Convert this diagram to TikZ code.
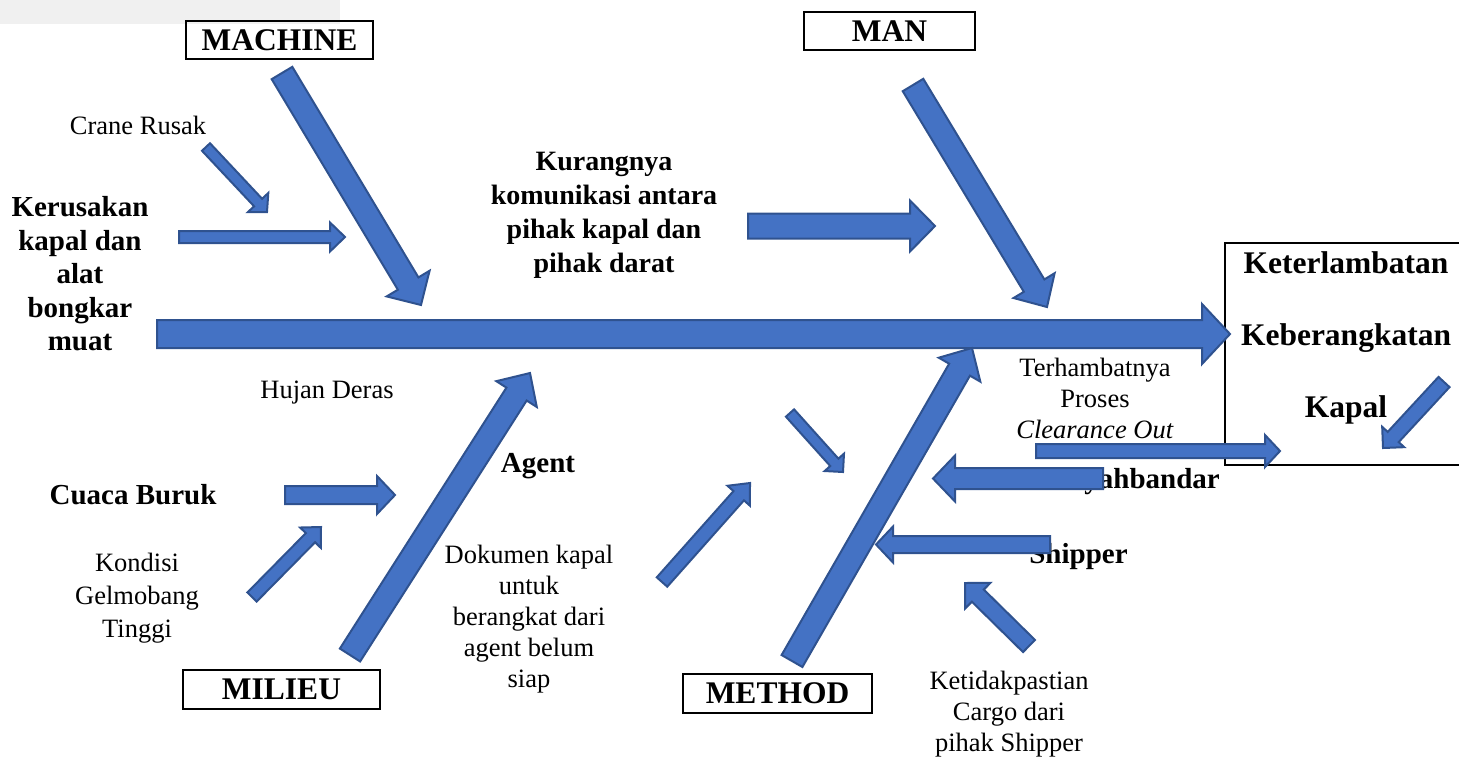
\documentclass[tikz,border=0pt]{standalone}
\usepackage{fontspec}
\setmainfont{Liberation Serif}
\usetikzlibrary{calc}
\definecolor{fishblue}{HTML}{4472C4}
\definecolor{fishedge}{HTML}{2F528F}
\newcommand{\fbTitle}{\fontsize{15.75}{18}\selectfont\bfseries}
\newcommand{\fbCause}{\fontsize{14.5}{16.75}\selectfont\bfseries}
\newcommand{\fbSub}{\fontsize{13.25}{15.5}\selectfont}
% block arrow: tail, tip, half shaft, half head, head length
\newcommand{\fisharrow}[5]{%
  \coordinate (fa) at ($(#2)!#5!(#1)$);
  \draw[fishbone] ($(#1)!#3!90:(#2)$) -- ($(fa)!#3!90:(#2)$) -- ($(fa)!#4!90:(#2)$) -- (#2)
    -- ($(fa)!#4!-90:(#2)$) -- ($(fa)!#3!-90:(#2)$) -- ($(#1)!#3!-90:(#2)$) -- cycle;}
\tikzset{
  fishbone/.style={fill=fishblue,draw=fishedge,line width=1pt,line join=miter},
  catbox/.style={draw,line width=0.8pt,inner sep=0pt,font=\fbTitle},
  cause/.style={align=center,font=\fbCause},
  subcause/.style={align=center,font=\fbSub},
}
\begin{document}
\begin{tikzpicture}[x=0.5pt,y=-0.5pt]
\useasboundingbox (0,0) rectangle (1459,757);
\fill[black!6] (0,0) rectangle (340,24);
% categories
\node[catbox,minimum width=93.5pt,minimum height=19pt] (machine) at (279.5,40) {MACHINE};
\node[catbox,minimum width=85.5pt,minimum height=19pt] (man) at (889.5,31) {MAN};
\node[catbox,minimum width=98.5pt,minimum height=19.5pt] (milieu) at (281.5,689.5) {MILIEU};
\node[catbox,minimum width=94.5pt,minimum height=19.5pt] (method) at (777.5,693.5) {METHOD};
% effect
\draw[line width=0.8pt] (1225,243) rectangle (1465,465);
\node[align=center,font=\fontsize{15.75}{36}\selectfont\bfseries] (effect) at (1346,338)
  {Keterlambatan\\Keberangkatan\\Kapal};
% causes
\node[subcause] (crane) at (138,125) {Crane Rusak};
\node[cause] (kerusakan) at (80,274) {Kerusakan\\kapal dan\\alat\\bongkar\\muat};
\node[cause,font=\fontsize{14}{17}\selectfont\bfseries] (kurang) at (604,215)
  {Kurangnya\\komunikasi antara\\pihak kapal dan\\pihak darat};
\node[subcause] (hujan) at (327,393) {Hujan Deras};
\node[cause] (agent) at (538,466) {Agent};
\node[cause] (cuaca) at (133,495) {Cuaca Buruk};
\node[subcause,font=\fontsize{13.25}{16.5}\selectfont] (kondisi) at (137,598) {Kondisi\\Gelmobang\\Tinggi};
\node[subcause] (dokumen) at (529,619) {Dokumen kapal\\untuk\\berangkat dari\\agent belum\\siap};
\node[subcause] (terhambat) at (1095,398) {Terhambatnya\\Proses\\\textit{Clearance Out}};
\node[subcause] (ketidak) at (1009,714) {Ketidakpastian\\Cargo dari\\pihak Shipper};
\node[cause] (syahbandar) at (1144,482) {Syahbandar};
\node[cause] (shipper) at (1078.5,557) {Shipper};
% arrows
\fisharrow{157,334}{1230,334}{7pt}{15pt}{14pt}
\fisharrow{282,73}{421,305}{6pt}{12.5pt}{12.5pt}
\fisharrow{913,85}{1047,307}{6pt}{12pt}{12.5pt}
\fisharrow{748,226}{935,226}{6.25pt}{12.75pt}{12.5pt}
\fisharrow{206,147}{267,212}{2.75pt}{7pt}{6.5pt}
\fisharrow{179,237}{345,237}{3pt}{7.25pt}{7.5pt}
\fisharrow{350,655}{530,373}{6pt}{12pt}{12.5pt}
\fisharrow{285,495}{395,495}{4.5pt}{9.5pt}{9pt}
\fisharrow{252,597}{321,527}{3.25pt}{7.25pt}{7.5pt}
\fisharrow{662,582}{750,483}{3.5pt}{7.5pt}{8.5pt}
\fisharrow{792,661}{972,348}{6pt}{12pt}{12.5pt}
\fisharrow{790,413}{843,472}{2.75pt}{6.5pt}{6.5pt}
\fisharrow{1103,478.5}{933,478.5}{5.25pt}{11.5pt}{11pt}
\fisharrow{1050,544.5}{876,544.5}{4.25pt}{9pt}{8.5pt}
\fisharrow{1029,646}{965,583}{4.25pt}{9pt}{9pt}
\fisharrow{1036,451}{1280,451}{3.5pt}{8pt}{7.5pt}
\fisharrow{1444,382}{1383,448}{3.75pt}{7.5pt}{7.5pt}
\end{tikzpicture}
\end{document}
